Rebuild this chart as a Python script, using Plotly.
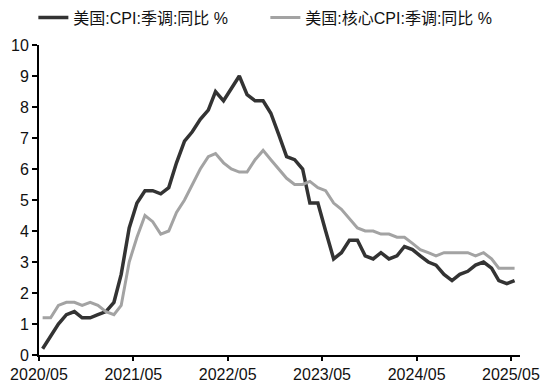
import pandas as pd
import plotly.graph_objects as go

start_month = "2020-05"
cpi = [0.2, 0.6, 1.0, 1.3, 1.4, 1.2, 1.2, 1.3,
       1.4, 1.7, 2.6, 4.1, 4.9, 5.3, 5.3, 5.2, 5.4, 6.2, 6.9, 7.2,
       7.6, 7.9, 8.5, 8.2, 8.6, 9.0, 8.4, 8.2, 8.2, 7.8, 7.1, 6.4,
       6.3, 6.0, 4.9, 4.9, 4.0, 3.1, 3.3, 3.7, 3.7, 3.2, 3.1, 3.3,
       3.1, 3.2, 3.5, 3.4, 3.2, 3.0, 2.9, 2.6, 2.4, 2.6, 2.7, 2.9,
       3.0, 2.8, 2.4, 2.3, 2.4]
core_cpi = [1.2, 1.2, 1.6, 1.7, 1.7, 1.6, 1.7, 1.6,
            1.4, 1.3, 1.6, 3.0, 3.8, 4.5, 4.3, 3.9, 4.0, 4.6, 5.0, 5.5,
            6.0, 6.4, 6.5, 6.2, 6.0, 5.9, 5.9, 6.3, 6.6, 6.3, 6.0, 5.7,
            5.5, 5.5, 5.6, 5.4, 5.3, 4.9, 4.7, 4.4, 4.1, 4.0, 4.0, 3.9,
            3.9, 3.8, 3.8, 3.6, 3.4, 3.3, 3.2, 3.3, 3.3, 3.3, 3.3, 3.2,
            3.3, 3.1, 2.8, 2.8, 2.8]
series_names = ["美国:CPI:季调:同比 %", "美国:核心CPI:季调:同比 %"]
tick_dates = ["2020-05-01", "2021-05-01", "2022-05-01", "2023-05-01", "2024-05-01", "2025-05-01"]
tick_labels = ["2020/05", "2021/05", "2022/05", "2023/05", "2024/05", "2025/05"]
y_ticks = list(range(0, 11))

dates = pd.date_range(start=start_month, periods=len(cpi), freq="MS") + pd.Timedelta(days=14)

font_fam = "Arial, 'Liberation Sans', 'Noto Sans CJK SC', sans-serif"

fig = go.Figure()
fig.add_trace(go.Scatter(x=dates, y=cpi, mode="lines", name=series_names[0],
                         line=dict(color="#333333", width=3.5)))
fig.add_trace(go.Scatter(x=dates, y=core_cpi, mode="lines", name=series_names[1],
                         line=dict(color="#a3a3a3", width=3)))

fig.update_layout(
    width=556, height=392,
    margin=dict(l=39, r=36, t=45, b=37, autoexpand=False),
    paper_bgcolor="white", plot_bgcolor="white",
    font=dict(family=font_fam, color="#111111"),
    showlegend=True,
    legend=dict(orientation="h", xref="container", yref="container",
                x=0.06, y=0.955, xanchor="left", yanchor="middle",
                font=dict(size=16, family=font_fam, color="#111111"),
                entrywidth=187, bgcolor="rgba(0,0,0,0)"),
    xaxis=dict(range=["2020-05-01", "2025-06-05"], tickvals=tick_dates, ticktext=tick_labels,
               showgrid=False, zeroline=False, showline=True, linecolor="#000000", linewidth=2,
               ticks="outside", ticklen=4, tickwidth=2, tickcolor="#000000", automargin=False,
               tickfont=dict(size=16, color="#111111")),
    yaxis=dict(range=[0, 10], tickvals=y_ticks, showgrid=False, zeroline=False,
               showline=True, linecolor="#000000", linewidth=2, automargin=False,
               ticks="outside", ticklen=5, tickwidth=2, tickcolor="#000000",
               tickfont=dict(size=16, color="#111111")),
)

fig.write_html("out.html", config={"displayModeBar": False},
               post_script="document.body.style.margin='0';")
